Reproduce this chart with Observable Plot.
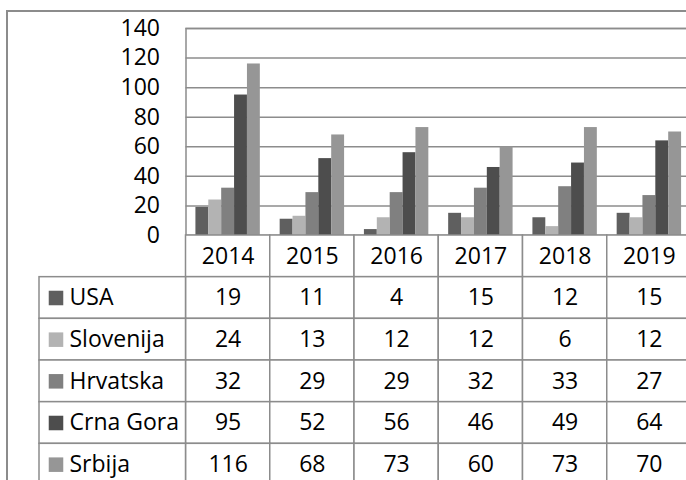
<!DOCTYPE html>
<html><head><meta charset="utf-8">
<script src="https://cdn.jsdelivr.net/npm/d3@7"></script>
<script src="https://cdn.jsdelivr.net/npm/@observablehq/plot@0.6"></script>
<style>
html,body{margin:0;padding:0;background:#fff;overflow:hidden;width:686px;height:480px;}
#wrap{position:relative;width:686px;height:480px;overflow:hidden;background:#fff;}
.layer{position:absolute;left:0;}
#border{position:absolute;left:6px;top:10px;width:800px;height:600px;border:2px solid #8c8c8c;box-sizing:border-box;}
</style></head>
<body><div id="wrap"><div id="border"></div></div>
<script>
const years = ["2014", "2015", "2016", "2017", "2018", "2019"];
const series = ["USA", "Slovenija", "Hrvatska", "Crna Gora", "Srbija"];
const usa = [19, 11, 4, 15, 12, 15];
const slovenija = [24, 13, 12, 12, 6, 12];
const hrvatska = [32, 29, 29, 32, 33, 27];
const crnaGora = [95, 52, 56, 46, 49, 64];
const srbija = [116, 68, 73, 60, 73, 70];
const yTicks = [0, 20, 40, 60, 80, 100, 120, 140];
const colors = ["#5f5f5f", "#b3b3b3", "#808080", "#4d4d4d", "#969696"];

const valuesBySeries = [usa, slovenija, hrvatska, crnaGora, srbija];
const rows = [];
years.forEach((year, i) => series.forEach((s, j) => rows.push({year, series: s, value: valuesBySeries[j][i]})));
const tableRows = years.map(year => ({year, row: "hdr", label: year}));
series.forEach((s, j) => years.forEach((year, i) => tableRows.push({year, row: s, label: String(valuesBySeries[j][i])})));

const gridColor = "#8c8c8c";
const W = 691, left = 185.5;
const font = "'Open Sans', Lato, sans-serif";
const fs = 23;
const baseStyle = {background: "transparent", fontFamily: font, fontSize: fs + "px", color: "#000", maxWidth: "none", overflow: "visible"};

const wrap = document.getElementById("wrap");
function place(svg, top, x = 0) {
  const d = document.createElement("div");
  d.className = "layer";
  d.style.top = top + "px";
  d.style.left = x + "px";
  d.appendChild(svg);
  wrap.appendChild(d);
}

const gridPlot = Plot.plot({
  width: W, height: 237, marginLeft: left, marginRight: 0, marginTop: 28, marginBottom: 2,
  style: baseStyle,
  y: {domain: [0, 140], ticks: yTicks, tickSize: 0, tickPadding: 26, label: null, tickFormat: d => String(d)},
  marks: [
    Plot.ruleY(yTicks, {stroke: gridColor, strokeWidth: 1.5}),
    Plot.frame({stroke: gridColor, strokeWidth: 1.5})
  ]
});
place(gridPlot, 0);

const barPlot = Plot.plot({
  width: W, height: 237, marginLeft: left, marginRight: 0, marginTop: 28, marginBottom: 2,
  style: baseStyle,
  facet: {data: rows, x: "year"},
  fx: {domain: years, padding: 0, axis: null, round: false},
  x: {domain: series, paddingInner: 0, paddingOuter: 0.77, axis: null, round: false},
  y: {domain: [0, 140], axis: null},
  color: {domain: series, range: colors},
  marks: [
    Plot.barY(rows, {x: "series", y: "value", fill: "series"})
  ]
});
place(barPlot, 0);

const tablePlot = Plot.plot({
  width: W, height: 250, marginLeft: left, marginRight: 0, marginTop: 0, marginBottom: 0,
  style: baseStyle,
  x: {domain: years, padding: 0, axis: null, round: false},
  y: {domain: ["hdr", ...series], padding: 0, axis: null, round: false},
  marks: [
    Plot.cell(tableRows, {x: "year", y: "row", fill: "white", stroke: gridColor, strokeWidth: 1.5}),
    Plot.text(tableRows, {x: "year", y: "row", text: "label", fontSize: fs, fill: "#000"})
  ]
});
place(tablePlot, 235);

const legendPlot = Plot.plot({
  width: 187.5, height: 250, marginLeft: 39, marginRight: 2, marginTop: 0, marginBottom: 0,
  style: baseStyle,
  y: {domain: ["hdr", ...series], padding: 0, axis: null, round: false},
  color: {domain: series, range: colors},
  marks: [
    Plot.cell(series, {y: d => d, fill: "white", stroke: gridColor, strokeWidth: 1.5}),
    Plot.dot(series, {y: d => d, frameAnchor: "left", dx: 16.5, symbol: "square", r: 8.2, fill: d => d}),
    Plot.text(series, {y: d => d, text: d => d, frameAnchor: "left", textAnchor: "start", dx: 30, fontSize: fs, fill: "#000"})
  ]
});
place(legendPlot, 235);
</script>
</body></html>
